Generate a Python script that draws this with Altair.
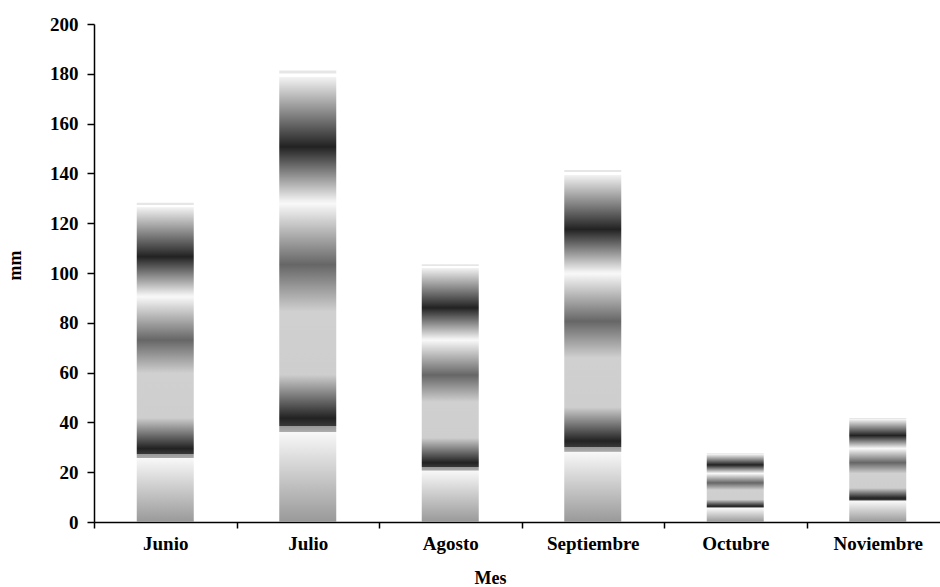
import altair as alt
import pandas as pd

meses = ["Junio", "Julio", "Agosto", "Septiembre", "Octubre", "Noviembre"]
mm = [128.2, 181.3, 103.5, 141.4, 27.6, 41.8]

df = pd.DataFrame({"Mes": meses, "mm": mm})

FONT = "Liberation Serif"

stops_spec = [
    (0.000, "#999999"),
    (0.199, "#f8f8f8"),
    (0.2005, "#aaaaaa"),
    (0.212, "#999999"),
    (0.2125, "#3a3a3a"),
    (0.230, "#222222"),
    (0.326, "#cecece"),
    (0.466, "#d0d0d0"),
    (0.570, "#666666"),
    (0.705, "#f8f8f8"),
    (0.712, "#f0f0f0"),
    (0.831, "#222222"),
    (0.985, "#f2f2f2"),
    (0.987, "#ffffff"),
    (0.993, "#ffffff"),
    (0.994, "#e6e6e6"),
    (1.000, "#e6e6e6"),
]
grad = alt.LinearGradient(
    gradient="linear",
    stops=[alt.GradientStop(offset=o, color=c) for o, c in stops_spec],
    x1=0, x2=0, y1=1, y2=0,
)

chart = (
    alt.Chart(df)
    .mark_bar(color=grad, width=alt.RelativeBandSize(0.4))
    .encode(
        x=alt.X(
            "Mes:N",
            sort=meses,
            scale=alt.Scale(range=[0, 855], paddingInner=0, paddingOuter=0),
            axis=alt.Axis(
                title="Mes",
                labelAngle=0,
                tickBand="extent",
                tickSize=6,
                labelPadding=6,
                titleX=396,
                titleY=56,
                titleBaseline="middle",
                titleAlign="center",
            ),
        ),
        y=alt.Y(
            "mm:Q",
            scale=alt.Scale(domain=[0, 200], nice=False),
            axis=alt.Axis(
                title="mm",
                values=list(range(0, 201, 20)),
                tickSize=7,
                labelPadding=9,
                titleX=-79,
                titleY=241,
                titleAngle=-90,
                titleBaseline="middle",
                titleAlign="center",
                grid=False,
            ),
        ),
    )
    .properties(
        width=846,
        height=498,
        autosize=alt.AutoSizeParams(type="none"),
        padding={"left": 94, "top": 24, "right": 0, "bottom": 65},
    )
    .configure_view(stroke=None)
    .configure_axis(
        domainColor="black",
        domainWidth=1.5,
        tickColor="black",
        tickWidth=1.5,
        labelFont=FONT,
        labelFontSize=19,
        labelFontWeight="bold",
        labelColor="black",
        titleFont=FONT,
        titleFontSize=18,
        titleFontWeight="bold",
        titleColor="black",
    )
)

chart.save("out.html", embed_options={"renderer": "svg", "actions": False})
